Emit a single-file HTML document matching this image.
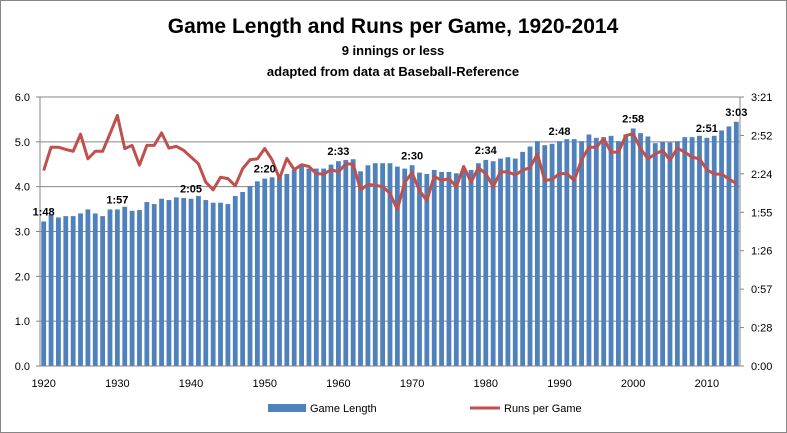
<!DOCTYPE html>
<html><head><meta charset="utf-8"><style>
body{margin:0;background:#fff}
svg{display:block;font-family:"Liberation Sans",Arial,sans-serif}
</style></head><body>
<svg id="chart" width="787" height="433">
<rect x="0.5" y="0.5" width="786" height="432" fill="#fff" stroke="#868686"/>
<text x="393" y="33" text-anchor="middle" font-size="21" font-weight="bold">Game Length and Runs per Game, 1920-2014</text>
<text x="393" y="55" text-anchor="middle" font-size="13" font-weight="bold">9 innings or less</text>
<text x="393" y="76" text-anchor="middle" font-size="13" font-weight="bold">adapted from data at Baseball-Reference</text>
<g id="grid"></g><g id="bars"></g><g id="line"></g><g id="axes"></g><g id="labels"></g>
<g>
<rect x="268" y="404" width="38" height="8" fill="#4f81bd"/>
<text x="310" y="412" font-size="11">Game Length</text>
<line x1="470" y1="408" x2="500" y2="408" stroke="#c0504d" stroke-width="3"/>
<text x="504" y="412" font-size="11">Runs per Game</text>
</g>
</svg>
<script>
const years=[];for(let y=1920;y<=2014;y++)years.push(y);
const gameLength=[108,113,111,112,112,114,117,114,112,117,117,119,116,116.5,122.5,121,125,124,126,125.5,125,127,124,122,122,121,127,130,134.5,138,140,141,141.5,143.5,146.5,149,147.5,147.5,147.5,150.5,153,154,154.5,145.5,150,151.5,151.5,151.5,149,147.5,150,144.5,143.5,146.5,145,145,144,146.5,146.5,151.5,154,153,155,156,155,160,164,168,165,166,168,169.5,169.5,168,173,170.5,171,172,168,173,177.5,174,171.5,166.5,167.5,167,168,171,171,172,170.5,172,176,179,182.5];
const runs=[4.36,4.88,4.88,4.83,4.79,5.17,4.62,4.79,4.79,5.18,5.59,4.85,4.92,4.48,4.92,4.92,5.2,4.86,4.9,4.81,4.66,4.51,4.1,3.93,4.21,4.18,4.02,4.4,4.6,4.62,4.85,4.6,4.18,4.63,4.38,4.49,4.45,4.29,4.28,4.38,4.33,4.51,4.5,3.93,4.05,4.03,4.0,3.85,3.49,4.1,4.31,3.91,3.69,4.23,4.14,4.18,4.0,4.45,4.1,4.42,4.29,4.0,4.33,4.33,4.26,4.37,4.42,4.73,4.14,4.16,4.29,4.29,4.14,4.6,4.88,4.88,5.07,4.77,4.77,5.14,5.18,4.85,4.62,4.73,4.81,4.59,4.86,4.77,4.66,4.62,4.38,4.28,4.28,4.17,4.07];
const leftTicks=["0.0","1.0","2.0","3.0","4.0","5.0","6.0"];
const rightTicks=["0:00","0:28","0:57","1:26","1:55","2:24","2:52","3:21"];
const xTickYears=[1920,1930,1940,1950,1960,1970,1980,1990,2000,2010];
const labelYears=[1920,1930,1940,1950,1960,1970,1980,1990,2000,2010,2014];
const X0=40,X1=740,YT=97,YB=366,LMAX=6,RMAX=201;
const band=(X1-X0)/years.length;
const xc=i=>X0+(i+0.5)*band;
const yL=v=>YB-v/LMAX*(YB-YT);
const yR=v=>YB-v/RMAX*(YB-YT);
const NS="http://www.w3.org/2000/svg";
function mk(tag,attrs,parent,txt){const e=document.createElementNS(NS,tag);for(const k in attrs)e.setAttribute(k,attrs[k]);if(txt!==undefined)e.textContent=txt;document.getElementById(parent).appendChild(e);return e;}
const fmt=m=>{m=Math.round(m);return Math.floor(m/60)+":"+String(m%60).padStart(2,"0");};
leftTicks.forEach((t,i)=>{const v=parseFloat(t);const y=yL(v);
 if(v>0){const g=mk("line",{x1:X0,x2:X1,y1:y,y2:y,stroke:"#868686","stroke-width":1},"grid");
 }
 const l=mk("text",{x:30,y:y+4,"text-anchor":"end","font-size":11},"axes",t);
 
 const k=mk("line",{x1:X0-4,x2:X0,y1:y,y2:y,stroke:"#868686"},"axes");
 });
rightTicks.forEach((t,i)=>{const y=YB-i*(YB-YT)/(rightTicks.length-1);
 const l=mk("text",{x:751,y:y+4,"font-size":11},"axes",t);
 
 const k=mk("line",{x1:X1,x2:X1+4,y1:y,y2:y,stroke:"#868686"},"axes");
 });
gameLength.forEach((v,i)=>{const r=mk("rect",{x:xc(i)-2.4,y:yR(v),width:4.8,height:YB-yR(v),fill:"#4f81bd"},"bars");
 });
const pl=mk("polyline",{points:runs.map((v,i)=>xc(i)+","+yL(v)).join(" "),fill:"none",stroke:"#c0504d","stroke-width":3,"stroke-linejoin":"round"},"line");

[["x1",X0,"x2",X0,"y1",YT,"y2",YB],["x1",X1,"x2",X1,"y1",YT,"y2",YB],["x1",X0,"x2",X1,"y1",YB,"y2",YB]].forEach((a,j)=>{
 const o={stroke:"#868686"};for(let k=0;k<a.length;k+=2)o[a[k]]=a[k+1];const ln=mk("line",o,"axes");
 });
xTickYears.forEach(yr=>{const i=years.indexOf(yr);
 const l=mk("text",{x:xc(i),y:387,"text-anchor":"middle","font-size":11},"axes",String(yr));
 });
labelYears.forEach(yr=>{const i=years.indexOf(yr);
 const l=mk("text",{x:xc(i),y:yR(gameLength[i])-6,"text-anchor":"middle","font-size":11,"font-weight":"bold"},"labels",fmt(gameLength[i]));
 });
</script>
</body></html>
